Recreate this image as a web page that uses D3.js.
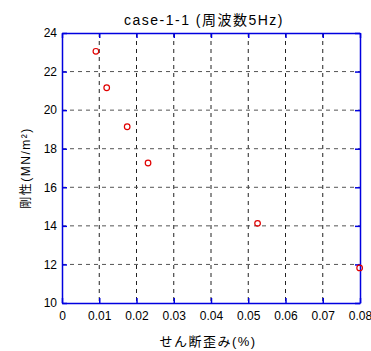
<!DOCTYPE html>
<html><head><meta charset="utf-8">
<script src="https://cdn.jsdelivr.net/npm/d3@7"></script>
<style>
body{margin:0;background:#fff;}
svg{display:block;}
text{font-family:"Liberation Sans",Arial,"Noto Sans CJK JP",sans-serif;}
</style></head>
<body>
<svg id="c" width="371" height="351"></svg>
<script>
const strain = [0.0091, 0.0120, 0.0175, 0.0231, 0.0525, 0.0799];
const stiffness = [23.05, 21.16, 19.14, 17.26, 14.13, 11.82];
const xTicks = [0, 0.01, 0.02, 0.03, 0.04, 0.05, 0.06, 0.07, 0.08];
const yTicks = [10, 12, 14, 16, 18, 20, 22, 24];
const titleText = "case-1-1 (周波数5Hz)";
const xLabel = "せん断歪み(%)";
const yLabel = "剛性(MN/m²)";

const svg = d3.select("#c");
const L = 62, R = 360, T = 33, B = 303;
const x = d3.scaleLinear().domain([0, 0.08]).range([L, R]);
const y = d3.scaleLinear().domain([10, 24]).range([B, T]);

// grid
const g = svg.append("g");
g.selectAll("line.vx").data(xTicks.slice(1, -1)).join("line")
  .attr("x1", d => x(d)).attr("x2", d => x(d)).attr("y1", T).attr("y2", B)
  .attr("stroke", "#222").attr("stroke-dasharray", "4,4").attr("stroke-width", 1);
g.selectAll("line.hy").data(yTicks.slice(1, -1)).join("line")
  .attr("y1", d => y(d)).attr("y2", d => y(d)).attr("x1", L).attr("x2", R)
  .attr("stroke", "#555").attr("stroke-dasharray", "4,4").attr("stroke-width", 1);

const blue = "#0000e0";
// axes
const fmtX = d => d === 0 ? "0" : d3.format(".2f")(d);
const ax = svg.append("g").attr("transform", `translate(0,${B})`)
  .call(d3.axisBottom(x).tickValues(xTicks).tickFormat(fmtX).tickSizeInner(-5).tickSizeOuter(0).tickPadding(8));
const axT = svg.append("g").attr("transform", `translate(0,${T})`)
  .call(d3.axisTop(x).tickValues(xTicks).tickFormat("").tickSizeInner(-5).tickSizeOuter(0));
const ay = svg.append("g").attr("transform", `translate(${L},0)`)
  .call(d3.axisLeft(y).tickValues(yTicks).tickSizeInner(-5).tickSizeOuter(0).tickPadding(5));
const ayR = svg.append("g").attr("transform", `translate(${R},0)`)
  .call(d3.axisRight(y).tickValues(yTicks).tickFormat("").tickSizeInner(-5).tickSizeOuter(0));
[ax, axT, ay, ayR].forEach(a => {
  a.select(".domain").attr("stroke", blue).attr("stroke-width", 1.5);
  a.selectAll(".tick line").attr("stroke", blue).attr("stroke-width", 1.5);
  a.selectAll(".tick text").attr("fill", "#000").attr("font-size", 12);
});

// points
svg.append("g").selectAll("circle").data(strain).join("circle")
  .attr("cx", (d, i) => x(d)).attr("cy", (d, i) => y(stiffness[i])).attr("r", 2.8)
  .attr("fill", "none").attr("stroke", "#e00000").attr("stroke-width", 1.2);

// labels
svg.append("text").attr("x", 204).attr("y", 25).attr("text-anchor", "middle")
  .attr("font-size", 14).attr("letter-spacing", 1.5).attr("fill", "#000").text(titleText);
svg.append("text").attr("x", 208).attr("y", 346).attr("text-anchor", "middle")
  .attr("font-size", 13).attr("letter-spacing", 1.5).attr("fill", "#000").text(xLabel);
svg.append("text").attr("transform", "translate(30,168) rotate(-90)").attr("text-anchor", "middle")
  .attr("font-size", 12).attr("letter-spacing", 1.5).attr("fill", "#000").text(yLabel);
</script>
</body></html>
